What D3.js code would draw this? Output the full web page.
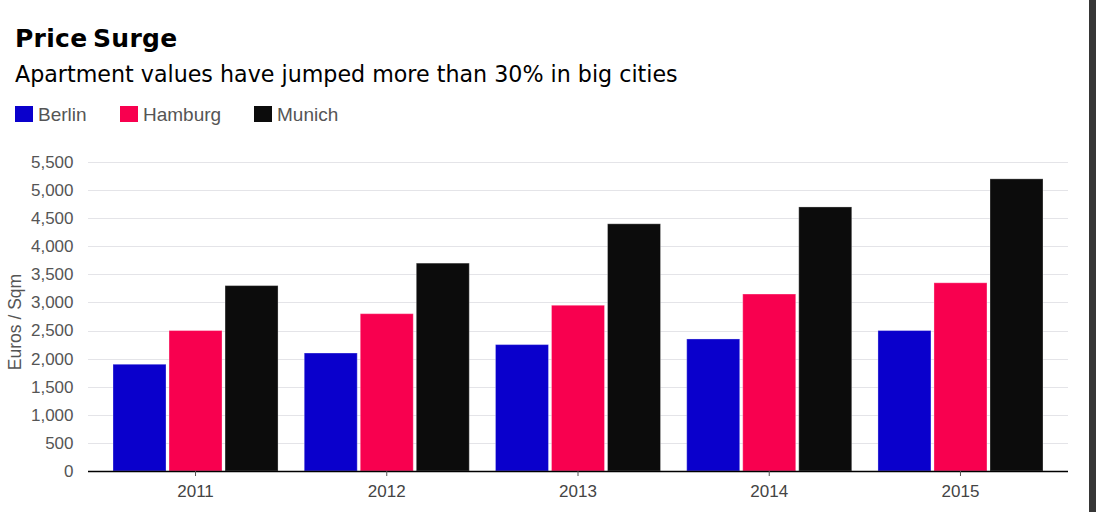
<!DOCTYPE html>
<html><head><meta charset="utf-8">
<script src="https://cdn.jsdelivr.net/npm/d3@7"></script>
<style>body{margin:0;background:#fff}svg{display:block}</style>
</head><body>
<script>
const years = ["2011","2012","2013","2014","2015"];
const seriesNames = ["Berlin","Hamburg","Munich"];
const berlin = [1900,2100,2250,2350,2500];
const hamburg = [2500,2800,2950,3150,3350];
const munich = [3300,3700,4400,4700,5200];
const yTicks = [0,500,1000,1500,2000,2500,3000,3500,4000,4500,5000,5500];
const colors = ["#0a00cc","#f8004f","#0c0c0c"];
const title = "Price Surge";
const subtitle = "Apartment values have jumped more than 30% in big cities";
const yLabel = "Euros / Sqm";

const W = 1096, H = 512;
const svg = d3.select("body").append("svg").attr("width", W).attr("height", H);
const font = "'Liberation Sans', Arial, sans-serif";
const wide = "'DejaVu Sans', sans-serif";

svg.append("rect").attr("x",1089).attr("y",0).attr("width",7).attr("height",H).attr("fill","#363636");

svg.append("text").attr("x",15).attr("y",47).attr("font-family",wide).attr("font-weight","bold")
  .attr("font-size",25).attr("fill","#000").attr("letter-spacing",0.3).attr("word-spacing",-3.5).text(title);
svg.append("text").attr("x",15).attr("y",82).attr("font-family",wide)
  .attr("font-size",22.2).attr("fill","#000").text(subtitle);

const legendX = [15,120,254];
seriesNames.forEach((s,i)=>{
  const g = svg.append("g").attr("transform",`translate(${legendX[i]},106)`);
  g.append("rect").attr("width",18).attr("height",16).attr("fill",colors[i]);
  g.append("text").attr("x",23).attr("y",15).attr("font-family",font).attr("font-size",19).attr("fill","#555").text(s);
});

const x0 = 88, x1 = 1068;
const y = d3.scaleLinear().domain([0,5500]).range([471,162]);
const x = d3.scaleBand().domain(years).range([99.9,1056.1]).paddingInner(0.137).paddingOuter(0.0685);
const xs = d3.scaleBand().domain(seriesNames).range([0,x.bandwidth()]).paddingInner(0.054);

svg.append("g").selectAll("line").data(yTicks.slice(1)).join("line")
  .attr("x1",x0).attr("x2",x1).attr("y1",d=>Math.round(y(d))+0.5).attr("y2",d=>Math.round(y(d))+0.5)
  .attr("stroke","#e4e4e8").attr("stroke-width",1);

const yAxis = svg.append("g").attr("transform",`translate(${x0},0)`)
  .call(d3.axisLeft(y).tickValues(yTicks).tickFormat(d3.format(",")).tickSize(0).tickPadding(14.5));
yAxis.select(".domain").remove();
yAxis.selectAll("text").attr("font-family",font).attr("font-size",17).attr("fill","#555");

const data = years.map((yr,i)=>({year:yr, vals:[berlin[i],hamburg[i],munich[i]]}));
const groups = svg.append("g").selectAll("g").data(data).join("g")
  .attr("transform",d=>`translate(${x(d.year)},0)`);
groups.selectAll("rect").data(d=>d.vals.map((v,j)=>({name:seriesNames[j],v,j}))).join("rect")
  .attr("x",d=>xs(d.name)).attr("width",xs.bandwidth())
  .attr("y",d=>y(d.v)).attr("height",d=>y(0)-y(d.v))
  .attr("fill",d=>colors[d.j]).attr("stroke","#fff").attr("stroke-opacity",0.3).attr("stroke-width",1);

const xAxis = svg.append("g").attr("transform","translate(0,471)")
  .call(d3.axisBottom(x).tickSize(5).tickPadding(9).tickSizeOuter(0));
xAxis.select(".domain").attr("d",`M${x0},0.5H${x1}`).attr("stroke","#000").attr("stroke-width",1.3);
xAxis.selectAll(".tick line").attr("stroke","#555");
xAxis.selectAll("text").attr("font-family",font).attr("font-size",17).attr("fill","#444");

svg.append("text").attr("transform","translate(21,322) rotate(-90)").attr("text-anchor","middle")
  .attr("font-family",font).attr("font-size",17.5).attr("fill","#555").text(yLabel);
</script>
</body></html>
